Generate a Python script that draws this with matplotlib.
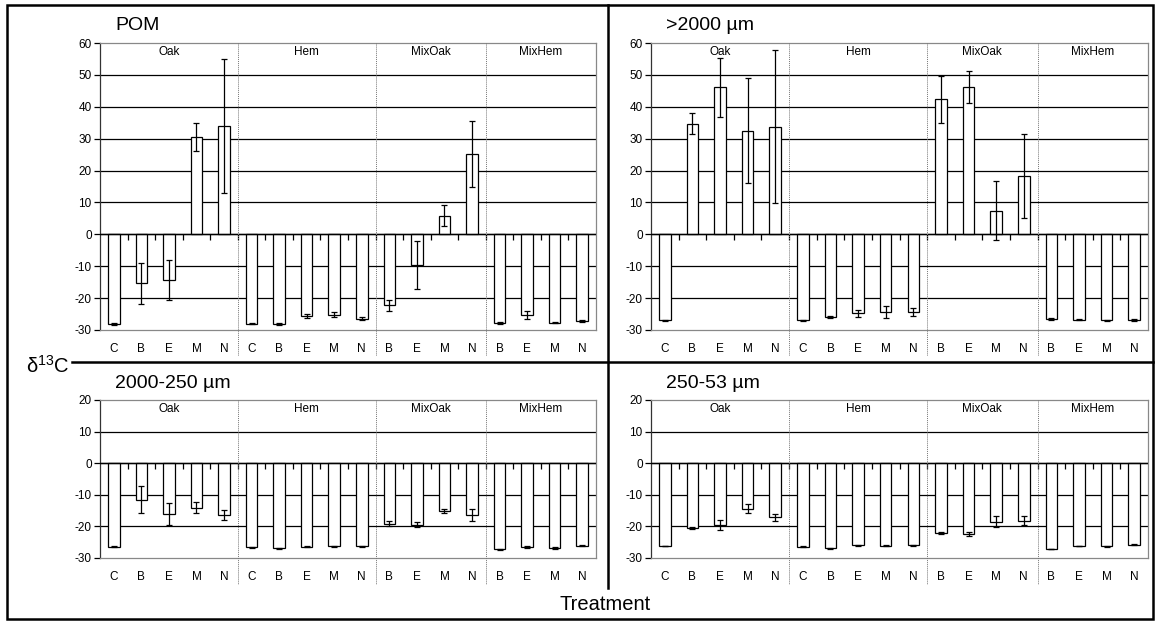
import numpy as np
import matplotlib
matplotlib.use("Agg")
import matplotlib.pyplot as plt
from matplotlib.lines import Line2D
from matplotlib.patches import Rectangle
import matplotlib.transforms as mtransforms

plt.rcParams['font.family'] = ['Liberation Sans', 'DejaVu Sans']
plt.rcParams['axes.unicode_minus'] = False
plt.rcParams['mathtext.fontset'] = 'custom'
plt.rcParams['mathtext.rm'] = 'Liberation Sans'

# treatments along the x axis, grouped by litter type
categories = ['C', 'B', 'E', 'M', 'N',
              'C', 'B', 'E', 'M', 'N',
              'B', 'E', 'M', 'N',
              'B', 'E', 'M', 'N']
groups = ['Oak', 'Hem', 'MixOak', 'MixHem']
group_sizes = [5, 5, 4, 4]

# delta 13C means and error bars for each fraction
pom_mean = [-28.0, -15.3, -14.3, 30.5, 34.0,
            -28.0, -28.0, -25.7, -25.2, -26.4,
            -22.3, -9.6, 5.9, 25.2,
            -27.9, -25.2, -27.7, -27.3]
pom_err = [0.3, 6.4, 6.4, 4.5, 21.0,
           0.2, 0.3, 0.6, 0.8, 0.4,
           1.8, 7.4, 3.3, 10.4,
           0.3, 1.2, 0.2, 0.3]

gt2000_mean = [-27.0, 34.7, 46.1, 32.5, 33.7,
               -27.0, -26.0, -24.8, -24.3, -24.3,
               42.3, 46.3, 7.4, 18.2,
               -26.5, -26.8, -27.0, -26.8]
gt2000_err = [0.2, 3.2, 9.3, 16.5, 24.0,
              0.2, 0.3, 1.0, 1.8, 1.3,
              7.3, 5.0, 9.2, 13.2,
              0.3, 0.2, 0.2, 0.3]

f2000_250_mean = [-26.4, -11.5, -16.1, -14.1, -16.3,
                  -26.6, -26.9, -26.4, -26.3, -26.3,
                  -19.2, -19.4, -15.2, -16.4,
                  -27.3, -26.4, -26.8, -26.1]
f2000_250_err = [0.2, 4.3, 3.6, 1.7, 1.6,
                 0.2, 0.2, 0.2, 0.2, 0.2,
                 0.8, 0.7, 0.7, 1.9,
                 0.2, 0.3, 0.2, 0.2]

f250_53_mean = [-26.2, -20.5, -19.6, -14.4, -17.1,
                -26.4, -26.9, -26.0, -26.1, -26.0,
                -22.1, -22.4, -18.5, -18.2,
                -27.2, -26.2, -26.3, -25.8]
f250_53_err = [0.1, 0.4, 1.5, 1.4, 1.1,
               0.1, 0.2, 0.1, 0.1, 0.1,
               0.2, 0.7, 1.7, 1.4,
               0.1, 0.1, 0.1, 0.2]

W, H = 1158, 622
fig = plt.figure(figsize=(W / 100, H / 100), dpi=100)


def px_axes(left, top, right, bottom):
    return fig.add_axes([left / W, 1 - bottom / H, (right - left) / W, (bottom - top) / H])


def draw_panel(ax, title, mean, err, ylim, height_px):
    x = np.arange(len(categories))
    ax.set_xlim(-0.5, len(categories) - 0.5)
    ax.set_ylim(*ylim)
    ax.set_yticks(np.arange(ylim[0], ylim[1] + 1, 10))
    for yv in np.arange(ylim[0] + 10, ylim[1], 10):
        ax.axhline(yv, color='black', lw=0.9, zorder=1)
    ax.bar(x, mean, width=0.42, color='white', edgecolor='black', lw=0.9, zorder=2)
    ax.errorbar(x, mean, yerr=err, fmt='none', ecolor='black', elinewidth=0.9,
                capsize=2.5, capthick=0.9, zorder=3)
    ax.axhline(0, color='black', lw=1.0, zorder=4)
    # small tick marks on the zero line between treatments
    bounds = np.arange(0.5, len(categories) - 1, 1.0)
    ax.plot(bounds, np.zeros_like(bounds), linestyle='none', marker=3,
            markersize=4, color='black', mew=0.9, zorder=4)

    for side in ['top', 'right', 'bottom']:
        ax.spines[side].set_color('#888888')
        ax.spines[side].set_linewidth(0.9)
    ax.spines['left'].set_color('#333333')
    ax.spines['left'].set_linewidth(0.9)
    ax.tick_params(axis='y', direction='out', length=4, width=0.9, labelsize=8.5, pad=2)
    ax.set_xticks(x)
    ax.set_xticklabels(categories, fontsize=8.5)
    ax.tick_params(axis='x', length=0, pad=9)

    # dotted separators between litter groups, running down past the labels
    low = -26 / height_px
    edges = np.cumsum(group_sizes)[:-1] - 0.5
    trans = mtransforms.blended_transform_factory(ax.transData, ax.transAxes)
    for e in edges:
        ax.add_line(Line2D([e, e], [1, low], transform=trans, color='#777777',
                           lw=0.7, ls=(0, (1, 1)), clip_on=False, zorder=5))
    starts = np.concatenate([[0], np.cumsum(group_sizes)[:-1]])
    for g, s, n in zip(groups, starts, group_sizes):
        ax.text(s + (n - 1) / 2, 1 - 9 / height_px, g, transform=trans,
                ha='center', va='center', fontsize=8.5)

    ax.text(0.03, 1 + 17 / height_px, title, transform=ax.transAxes,
            ha='left', va='center', fontsize=14)


ax1 = px_axes(100, 43, 596, 330)
ax2 = px_axes(651, 43, 1148, 330)
ax3 = px_axes(100, 400, 596, 558)
ax4 = px_axes(651, 400, 1148, 558)

draw_panel(ax1, 'POM', pom_mean, pom_err, (-30, 60), 287)
draw_panel(ax2, '>2000 µm', gt2000_mean, gt2000_err, (-30, 60), 287)
draw_panel(ax3, '2000-250 µm', f2000_250_mean, f2000_250_err, (-30, 20), 158)
draw_panel(ax4, '250-53 µm', f250_53_mean, f250_53_err, (-30, 20), 158)

# outer frame and dividing lines
fig.patches.append(Rectangle((7 / W, 1 - 619 / H), 1146 / W, 614 / H, transform=fig.transFigure,
                             fill=False, edgecolor='black', lw=1.8))
fig.lines.append(Line2D([608 / W, 608 / W], [1 - 5 / H, 1 - 588 / H], transform=fig.transFigure,
                        color='black', lw=1.8))
fig.lines.append(Line2D([72 / W, 1153 / W], [1 - 362 / H, 1 - 362 / H], transform=fig.transFigure,
                        color='black', lw=1.8))

fig.text(48 / W, 1 - 366 / H, r'δ$\mathrm{^{13}}$C', ha='center', va='center', fontsize=14.5)
fig.text(605 / W, 1 - 605 / H, 'Treatment', ha='center', va='center', fontsize=14.5)

fig.savefig('out.png', dpi=100)
